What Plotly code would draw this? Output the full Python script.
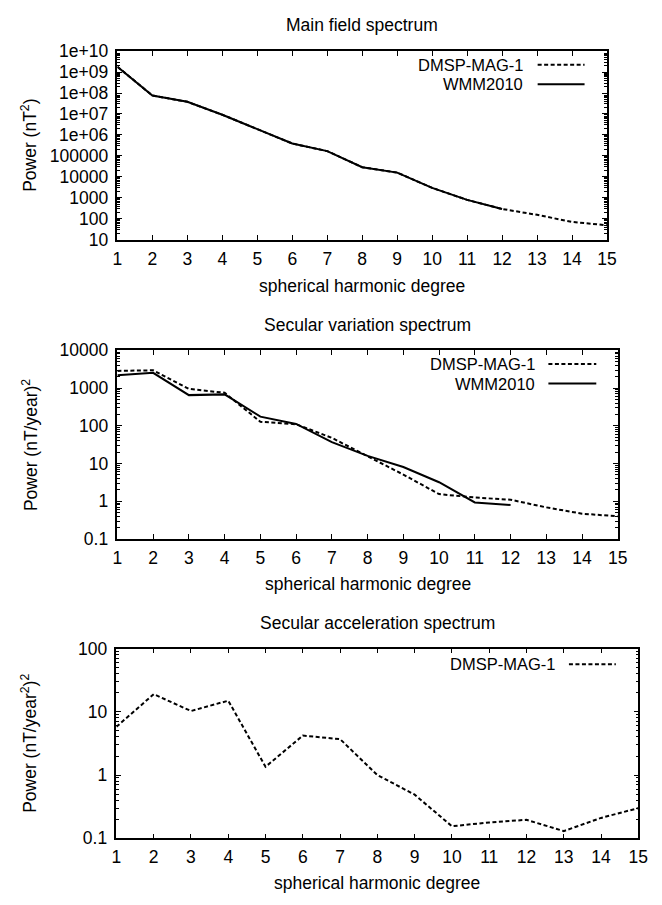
import plotly.graph_objects as go

W, H = 662, 905

# ---------------- data ----------------
degrees = list(range(1, 16))
wmm_degrees = list(range(1, 13))

# Main field spectrum (nT^2)
main_dmsp = [1.8e9, 7.6e7, 3.8e7, 9.2e6, 1.9e6, 3.9e5, 1.7e5, 2.9e4, 1.6e4, 3000, 800, 295, 155, 71, 49]
main_wmm = [1.8e9, 7.6e7, 3.8e7, 9.2e6, 1.9e6, 3.9e5, 1.7e5, 2.9e4, 1.6e4, 3000, 800, 295]

# Secular variation spectrum ((nT/year)^2)
sv_dmsp = [2850, 2950, 950, 750, 128, 110, 48, 16, 5.1, 1.55, 1.26, 1.1, 0.69, 0.47, 0.40]
sv_wmm = [2200, 2530, 650, 680, 175, 112, 37, 16, 8.1, 3.2, 0.93, 0.80]

# Secular acceleration spectrum ((nT/year^2)^2)
sa_dmsp = [5.8, 19, 10.3, 15, 1.35, 4.2, 3.7, 1.0, 0.49, 0.155, 0.178, 0.196, 0.13, 0.21, 0.30]

main_ticks = [10, 100, 1000, 1e4, 1e5, 1e6, 1e7, 1e8, 1e9, 1e10]
main_ticktext = ["10", "100", "1000", "10000", "100000", "1e+06", "1e+07", "1e+08", "1e+09", "1e+10"]
sv_ticks = [0.1, 1, 10, 100, 1000, 10000]
sv_ticktext = ["0.1", "1", "10", "100", "1000", "10000"]
sa_ticks = [0.1, 1, 10, 100]
sa_ticktext = ["0.1", "1", "10", "100"]

titles = ["Main field spectrum", "Secular variation spectrum", "Secular acceleration spectrum"]
ytitles = ["Power (nT<sup>2</sup>)", "Power (nT/year)<sup>2</sup>", "Power (nT/year<sup>2</sup>)<sup>2</sup>"]
xtitle = "spherical harmonic degree"

# ---------------- layout geometry (pixels) ----------------
panels = [
    dict(x0=115, x1=616, y0=42, y1=235, title_y=15, xlab_y=282),
    dict(x0=115, x1=627, y0=348, y1=541, title_y=322, xlab_y=587),
    dict(x0=114, x1=648, y0=653, y1=847, title_y=627, xlab_y=893),
]
legends = [
    [("DMSP-MAG-1", 531, 545, 593, 56, "dash"), ("WMM2010", 531, 545, 593, 76, "solid")],
    [("DMSP-MAG-1", 543, 556, 605, 362, "dash"), ("WMM2010", 543, 556, 605, 382, "solid")],
    [("DMSP-MAG-1", 564, 577, 625, 669, "dash")],
]

FONT = "Liberation Sans, Arial, Helvetica, sans-serif"
FS = 17.5
LFS = 16.5
DASH = "4px,2.5px"


def px(x):
    return x / W


def py(y):
    return 1 - y / H


fig = go.Figure()

series = [
    [(degrees, main_dmsp, "DMSP-MAG-1", DASH), (wmm_degrees, main_wmm, "WMM2010", "solid")],
    [(degrees, sv_dmsp, "DMSP-MAG-1", DASH), (wmm_degrees, sv_wmm, "WMM2010", "solid")],
    [(degrees, sa_dmsp, "DMSP-MAG-1", DASH)],
]
ytick_sets = [(main_ticks, main_ticktext, [1, 10]),
              (sv_ticks, sv_ticktext, [-1, 4]),
              (sa_ticks, sa_ticktext, [-1, 2])]

annotations = []
shapes = []
for i, p in enumerate(panels):
    n = i + 1
    xa = "x" if n == 1 else f"x{n}"
    ya = "y" if n == 1 else f"y{n}"
    for xs, ys, name, dash in series[i]:
        fig.add_trace(go.Scatter(x=xs, y=ys, mode="lines", name=name,
                                 line=dict(color="black", width=2, dash=dash),
                                 xaxis=xa, yaxis=ya, showlegend=False))
    tv, tt, rng = ytick_sets[i]
    fig.layout[f"xaxis{'' if n == 1 else n}"] = dict(
        domain=[px(p["x0"]), px(p["x1"])], anchor=ya, range=[1, 15],
        tickmode="array", tickvals=degrees, ticktext=[str(d) for d in degrees],
        ticks="inside", ticklen=5, tickwidth=1, tickcolor="black",
        showline=True, linecolor="black", linewidth=1.5, mirror="ticks",
        showgrid=False, zeroline=False, tickfont=dict(size=FS, color="black"),
        ticklabelstandoff=2,
    )
    fig.layout[f"yaxis{'' if n == 1 else n}"] = dict(
        domain=[py(p["y1"]), py(p["y0"])], anchor=xa, type="log", range=rng,
        tickmode="array", tickvals=tv, ticktext=tt,
        ticks="inside", ticklen=5, tickwidth=1, tickcolor="black",
        minor=dict(ticks="inside", ticklen=3, dtick="D1", tickcolor="black", showgrid=False),
        showline=True, linecolor="black", linewidth=1.5, mirror="ticks",
        showgrid=False, zeroline=False, tickfont=dict(size=FS, color="black"),
        ticklabelstandoff=4,
    )
    # titles
    annotations.append(dict(text=titles[i], x=px((p["x0"] + p["x1"]) / 2), y=py(p["title_y"]),
                            xref="paper", yref="paper", showarrow=False,
                            xanchor="center", yanchor="middle", font=dict(size=FS)))
    annotations.append(dict(text=xtitle, x=px((p["x0"] + p["x1"]) / 2), y=py(p["xlab_y"]),
                            xref="paper", yref="paper", showarrow=False,
                            xanchor="center", yanchor="middle", font=dict(size=FS)))
    annotations.append(dict(text=ytitles[i], x=px(25), y=py((p["y0"] + p["y1"]) / 2),
                            xref="paper", yref="paper", showarrow=False, textangle=-90,
                            xanchor="center", yanchor="middle", font=dict(size=FS)))
    for label, tx, lx0, lx1, ly, style in legends[i]:
        annotations.append(dict(text=label, x=px(tx), y=py(ly), xref="paper", yref="paper",
                                showarrow=False, xanchor="right", yanchor="middle",
                                borderpad=0, font=dict(size=LFS)))
        shapes.append(dict(type="line", xref="paper", yref="paper",
                           x0=px(lx0), x1=px(lx1), y0=py(ly), y1=py(ly),
                           line=dict(color="black", width=2,
                                     dash=DASH if style == "dash" else "solid")))

fig.update_layout(
    width=W, height=H, margin=dict(l=0, r=0, t=0, b=0),
    paper_bgcolor="white", plot_bgcolor="white",
    font=dict(family=FONT, size=FS, color="black"),
    annotations=annotations, shapes=shapes, showlegend=False,
)

fig.write_html("out.html")
